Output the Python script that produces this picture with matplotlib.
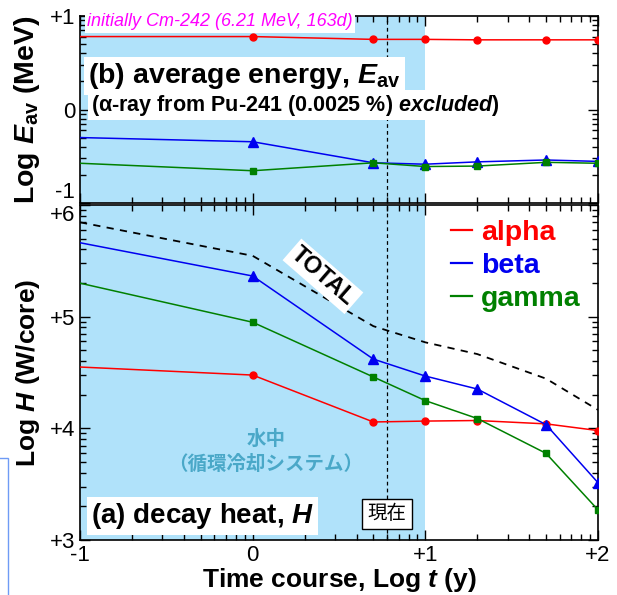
import numpy as np
import matplotlib.pyplot as plt
from matplotlib.lines import Line2D
from matplotlib.patches import Rectangle
from matplotlib.ticker import LogLocator, NullFormatter, FuncFormatter
import matplotlib.transforms as mtransforms

plt.rcParams['font.family'] = ['Liberation Sans', 'Noto Sans CJK JP', 'DejaVu Sans']
plt.rcParams['mathtext.fontset'] = 'custom'
plt.rcParams['mathtext.rm'] = 'Liberation Sans:bold'
plt.rcParams['mathtext.bf'] = 'Liberation Sans:bold'
plt.rcParams['mathtext.it'] = 'Liberation Sans:bold:italic'

# time after shutdown (years)
t_years = [0.1, 1, 5, 10, 20, 50, 100]
now_year = 6      # 現在
pool_end = 10     # end of water cooling period

# (b) log10 of average energy (MeV)
log_eav_alpha = [0.78, 0.78, 0.75, 0.75, 0.745, 0.745, 0.745]
log_eav_beta = [-0.30, -0.345, -0.57, -0.585, -0.56, -0.54, -0.555]
log_eav_gamma = [-0.575, -0.655, -0.57, -0.61, -0.605, -0.565, -0.575]

# (a) log10 of decay heat (W/core)
log_h_alpha = [4.549, 4.477, 4.057, 4.065, 4.07, 4.04, 3.98]
log_h_beta = [5.662, 5.364, 4.62, 4.468, 4.352, 4.033, 3.513]
log_h_gamma = [5.30, 4.95, 4.46, 4.248, 4.088, 3.776, 3.27]
log_h_total = [5.845, 5.545, 4.915, 4.77, 4.665, 4.445, 4.165]

c_alpha = '#ff0000'
c_beta = '#0000f0'
c_gamma = '#008000'
shade = '#b0e2fa'

fig = plt.figure(figsize=(6.17, 5.95), dpi=100)
axb = fig.add_axes([80/617, 1-203/595, 518/617, 187/595])
axa = fig.add_axes([80/617, 1-540/595, 518/617, 335/595])

logfmt = FuncFormatter(lambda v, p: '0' if abs(np.log10(v)) < 1e-9 else f'{int(round(np.log10(v))):+d}')

for ax in (axb, axa):
    ax.set_xscale('log')
    ax.set_yscale('log')
    ax.set_xlim(0.1, 100)
    ax.axvspan(0.1, pool_end, color=shade, lw=0, zorder=0)
    ax.axvline(now_year, color='black', lw=0.9, ls=(0, (3, 2.5)), zorder=1)
    ax.tick_params(which='both', direction='in', top=True, right=True, width=1, labelsize=16)
    ax.tick_params(which='major', length=7)
    ax.tick_params(which='minor', length=4)
    ax.xaxis.set_minor_locator(LogLocator(base=10, subs=np.arange(2, 10)))
    ax.yaxis.set_minor_locator(LogLocator(base=10, subs=np.arange(2, 10)))
    ax.xaxis.set_minor_formatter(NullFormatter())
    ax.yaxis.set_minor_formatter(NullFormatter())
    ax.set_xticks([0.1, 1, 10, 100])
    ax.xaxis.set_major_formatter(logfmt)
    ax.yaxis.set_major_formatter(logfmt)
    for s in ax.spines.values():
        s.set_linewidth(1.2)

mk = dict(markevery=slice(1, None), lw=1.1, zorder=3)

# ---- (b) average energy
axb.set_ylim(0.1, 10)
axb.set_yticks([0.1, 1, 10])
axb.yaxis.set_minor_formatter(NullFormatter())
axb.plot(t_years, 10**np.array(log_eav_alpha), color=c_alpha, marker='o', ms=5, **mk)
axb.plot(t_years, 10**np.array(log_eav_beta), color=c_beta, marker='^', ms=6.5, **mk)
axb.plot(t_years, 10**np.array(log_eav_gamma), color=c_gamma, marker='s', ms=5, **mk)
axb.tick_params(labelbottom=False)
axb.yaxis.get_major_ticks()[0].label1.set_verticalalignment('bottom')
axb.set_ylabel('Log $E_{\\mathrm{av}}$ (MeV)', fontsize=20.5, fontweight='bold')
axb.yaxis.set_label_coords(-0.073, 0.5)

axb.text(0.0135, 0.968, 'initially Cm-242 (6.21 MeV, 163d)', transform=axb.transAxes,
         color='#ff00ff', fontsize=13, fontstyle='italic', ha='left', va='center',
         bbox=dict(fc='white', ec='none', pad=1.5), zorder=5)
axb.text(0.0154, 0.679, '(b) average energy, $E_{\\mathrm{av}}$', transform=axb.transAxes,
         fontsize=20.5, fontweight='bold', ha='left', va='center',
         bbox=dict(fc='white', ec='none', pad=3), zorder=5)
axb.text(0.021, 0.524, '(α-ray from Pu-241 (0.0025 %) $excluded$)', transform=axb.transAxes,
         fontsize=15.5, fontweight='bold', ha='left', va='center',
         bbox=dict(fc='white', ec='none', pad=2), zorder=5)

# ---- (a) decay heat
axa.set_ylim(1e3, 1e6)
axa.set_yticks([1e3, 1e4, 1e5, 1e6])
axa.plot(t_years, 10**np.array(log_h_total), color='black', lw=1.3, ls=(0, (4, 3.5)), zorder=2)
axa.plot(t_years, 10**np.array(log_h_alpha), color=c_alpha, marker='o', ms=5, **mk)
axa.plot(t_years, 10**np.array(log_h_beta), color=c_beta, marker='^', ms=6.5, **mk)
axa.plot(t_years, 10**np.array(log_h_gamma), color=c_gamma, marker='s', ms=5, **mk)
axa.yaxis.get_major_ticks()[-1].label1.set_verticalalignment('top')
axa.set_ylabel('Log $H$ (W/core)', fontsize=19, fontweight='bold')
axa.yaxis.set_label_coords(-0.073, 0.5)
axa.set_xlabel('Time course, Log $t$ (y)', fontsize=19, fontweight='bold', labelpad=0)

handles = [Line2D([], [], color=c_alpha, lw=1.6),
           Line2D([], [], color=c_beta, lw=1.6),
           Line2D([], [], color=c_gamma, lw=1.6)]
axa.legend(handles, ['alpha', 'beta', 'gamma'], loc='upper left',
           bbox_to_anchor=(0.716, 0.956), frameon=False, labelcolor='linecolor',
           prop=dict(size=20.5, weight='bold'), handlelength=0.75, handletextpad=0.3,
           labelspacing=0.25, borderpad=0, borderaxespad=0)

axa.text(0.469, 0.787, 'TOTAL', transform=axa.transAxes, rotation=-41,
         rotation_mode='anchor', ha='center', va='center', fontsize=17, fontweight='bold',
         bbox=dict(fc='white', ec='none', pad=2), zorder=5)
axa.text(0.359, 0.301, '水中', transform=axa.transAxes, ha='center', va='center',
         fontsize=14, fontweight='bold', color='#4aa8c8', zorder=4)
axa.text(0.359, 0.224, '（循環冷却システム）', transform=axa.transAxes, ha='center', va='center',
         fontsize=14, fontweight='bold', color='#4aa8c8', zorder=4)
axa.text(0.021, 0.072, '(a) decay heat, $H$', transform=axa.transAxes, ha='left', va='center',
         fontsize=20, fontweight='bold',
         bbox=dict(fc='white', ec='none', pad=3), zorder=5)
blend = mtransforms.blended_transform_factory(axa.transData, axa.transAxes)
axa.text(now_year, 0.078, '現在', transform=blend, ha='center', va='center', fontsize=14,
         bbox=dict(fc='white', ec='black', lw=1, pad=4), zorder=5)

# cropped box at the left edge of the slide
fig.add_artist(Rectangle((-0.05, -0.05), 0.0622, 0.2803, transform=fig.transFigure,
                         fill=False, ec='#6f9bf5', lw=1))

fig.savefig('out.png', dpi=100)
